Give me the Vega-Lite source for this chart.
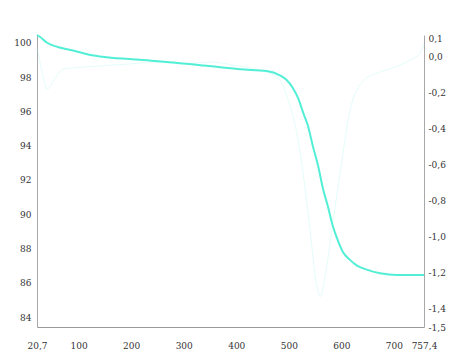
{
  "$schema": "https://vega.github.io/schema/vega-lite/v6.json",
  "autosize": {"type": "none"},
  "padding": {"left": 37, "top": 35, "right": 25, "bottom": 28},
  "width": 387,
  "height": 292,
  "background": "white",
  "config": {
    "view": {"stroke": null},
    "axis": {"grid": false, "ticks": false, "domainColor": "#a8a8a8", "domainWidth": 1, "labelFont": "DejaVu Serif", "labelFontSize": 9, "labelColor": "#333333", "title": null}
  },
  "datasets": {
    "tg": [
      {"T": 20.7, "mass": 100.45}, {"T": 26, "mass": 100.35}, {"T": 40, "mass": 100.0},
      {"T": 60, "mass": 99.75}, {"T": 89, "mass": 99.55}, {"T": 120, "mass": 99.3},
      {"T": 154, "mass": 99.15}, {"T": 217, "mass": 99.0}, {"T": 280, "mass": 98.85},
      {"T": 344, "mass": 98.65}, {"T": 407, "mass": 98.45}, {"T": 458, "mass": 98.35},
      {"T": 483, "mass": 98.1}, {"T": 495, "mass": 97.85}, {"T": 508, "mass": 97.35},
      {"T": 518, "mass": 96.75}, {"T": 527, "mass": 95.95}, {"T": 536, "mass": 95.2},
      {"T": 546, "mass": 93.95}, {"T": 556, "mass": 92.8}, {"T": 565, "mass": 91.5},
      {"T": 574, "mass": 90.5}, {"T": 584, "mass": 89.3}, {"T": 593, "mass": 88.5},
      {"T": 603, "mass": 87.8}, {"T": 616, "mass": 87.35}, {"T": 630, "mass": 87.0},
      {"T": 650, "mass": 86.75}, {"T": 674, "mass": 86.55}, {"T": 706, "mass": 86.45},
      {"T": 757.4, "mass": 86.45}
    ],
    "dtg": [
      {"T": 20.7, "dtg": 0.05}, {"T": 30, "dtg": -0.08}, {"T": 40, "dtg": -0.18},
      {"T": 55, "dtg": -0.12}, {"T": 70, "dtg": -0.07}, {"T": 100, "dtg": -0.06},
      {"T": 150, "dtg": -0.05}, {"T": 200, "dtg": -0.04}, {"T": 250, "dtg": -0.03},
      {"T": 300, "dtg": -0.04}, {"T": 350, "dtg": -0.03}, {"T": 400, "dtg": -0.05},
      {"T": 450, "dtg": -0.08}, {"T": 480, "dtg": -0.12}, {"T": 500, "dtg": -0.25},
      {"T": 520, "dtg": -0.5}, {"T": 540, "dtg": -0.95}, {"T": 552, "dtg": -1.25},
      {"T": 560, "dtg": -1.33}, {"T": 570, "dtg": -1.2}, {"T": 585, "dtg": -0.9},
      {"T": 600, "dtg": -0.6}, {"T": 615, "dtg": -0.32}, {"T": 640, "dtg": -0.14},
      {"T": 670, "dtg": -0.09}, {"T": 700, "dtg": -0.06}, {"T": 730, "dtg": -0.02},
      {"T": 750, "dtg": 0.02}, {"T": 757.4, "dtg": 0.07}
    ]
  },
  "encoding": {
    "x": {
      "field": "T", "type": "quantitative",
      "scale": {"domain": [20.7, 757.4], "nice": false, "zero": false},
      "axis": {"values": [20.7, 100, 200, 300, 400, 500, 600, 700, 757.4], "labelPadding": 14, "domainColor": "#999999", "labelExpr": "replace(datum.value + '', '.', ',')", "labelOverlap": false, "labelFlush": false}
    }
  },
  "layer": [
    {
      "data": {"name": "dtg"},
      "mark": {"type": "line", "color": "#7ff3e3", "opacity": 0.22, "strokeWidth": 1, "interpolate": "monotone"},
      "encoding": {
        "y": {
          "field": "dtg", "type": "quantitative",
          "scale": {"domain": [-1.5, 0.12], "nice": false, "zero": false},
          "axis": {"orient": "right", "values": [0.1, 0, -0.2, -0.4, -0.6, -0.8, -1.0, -1.2, -1.4, -1.5], "labelPadding": 4, "labelOverlap": false, "labelExpr": "(datum.value < 0 ? '-' : '') + replace(format(abs(datum.value), '.1f'), '.', ',')"}
        }
      }
    },
    {
      "data": {"name": "tg"},
      "mark": {"type": "line", "color": "#52efd6", "strokeWidth": 2, "interpolate": "monotone"},
      "encoding": {
        "y": {
          "field": "mass", "type": "quantitative",
          "scale": {"domain": [83.42, 100.45], "nice": false, "zero": false},
          "axis": {"orient": "left", "values": [84, 86, 88, 90, 92, 94, 96, 98, 100], "labelPadding": 6}
        }
      }
    }
  ],
  "resolve": {"scale": {"y": "independent"}}
}
